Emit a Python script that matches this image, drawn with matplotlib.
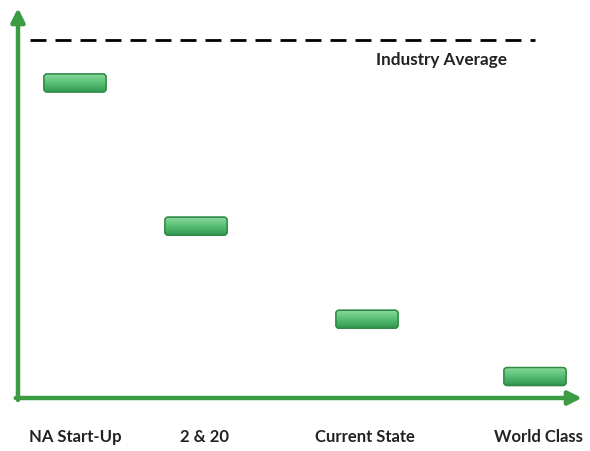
"""
Floating bars vs. industry average (recreated chart).
"""

import numpy as np
import matplotlib.pyplot as plt
from matplotlib.patches import FancyBboxPatch

categories = ["NA Start-Up", "2 & 20", "Current State", "World Class"]
values = [88, 48, 22, 6]
industry_average = 100
avg_label = "Industry Average"

# layout (axes x units are pixels from the y-axis)
bar_x = [57, 178, 349, 517]
label_x = [57, 187, 347, 520]
bar_w = 62
bar_h = 5.0
px_per_unit = 3.58

GREEN = "#3c9c43"
TEXT = "#222222"

fig = plt.figure(figsize=(5.9, 4.51), dpi=100)
ax = fig.add_axes([18 / 590, 53 / 451, 564 / 590, 390 / 451])
ax.set_xlim(0, 564)
ax.set_ylim(0, 390 / px_per_unit)
for s in ax.spines.values():
    s.set_visible(False)
ax.set_xticks([])
ax.set_yticks([])

# axes arrows
arrow = dict(arrowstyle="-|>", lw=3.2, color=GREEN, mutation_scale=20,
             shrinkA=0, shrinkB=0)
ax.annotate("", xy=(0, 1.0), xytext=(0, -0.005), xycoords="axes fraction",
            arrowprops=arrow, annotation_clip=False)
ax.annotate("", xy=(1.0, 0), xytext=(-0.004, 0), xycoords="axes fraction",
            arrowprops=arrow, annotation_clip=False)

# industry average dashed line
ax.plot([12, 517], [industry_average, industry_average], color="black",
        lw=2, dashes=(5.75, 3.25))
ax.text(424, industry_average - 5.6, avg_label, ha="center", va="center",
        fontsize=12.3, fontfamily="Lato", fontweight="bold", color=TEXT)

# gradient for bars: light top, darker bottom
grad = np.linspace(0, 1, 64).reshape(-1, 1)
top = np.array([0.55, 0.85, 0.62])
mid = np.array([0.36, 0.76, 0.47])
bot = np.array([0.20, 0.60, 0.32])
rgb = np.where(grad[..., None] < 0.45,
               top + (mid - top) * (grad[..., None] / 0.45),
               mid + (bot - mid) * ((grad[..., None] - 0.45) / 0.55))
rgb = rgb.reshape(64, 1, 3)

for x, v in zip(bar_x, values):
    x0, y0 = x - bar_w / 2, v - bar_h / 2
    patch = FancyBboxPatch((x0, y0), bar_w, bar_h,
                           boxstyle="round,pad=0,rounding_size=3",
                           mutation_aspect=1 / px_per_unit,
                           facecolor="#4cb863", edgecolor="#2d8a44", lw=1.0,
                           zorder=3)
    ax.add_patch(patch)
    im = ax.imshow(rgb, extent=(x0, x0 + bar_w, y0, y0 + bar_h),
                   aspect="auto", origin="upper", zorder=3.5)
    im.set_clip_path(patch)
    edge = FancyBboxPatch((x0, y0), bar_w, bar_h,
                          boxstyle="round,pad=0,rounding_size=3",
                          mutation_aspect=1 / px_per_unit,
                          facecolor="none", edgecolor="#2d8a44", lw=1.0,
                          zorder=4)
    ax.add_patch(edge)

ax.set_xlim(0, 564)
ax.set_ylim(0, 390 / px_per_unit)

for x, name in zip(label_x, categories):
    ax.text(x, -39 / 390, name, transform=ax.get_xaxis_transform(),
            ha="center", va="center", fontsize=12, fontfamily="Lato",
            fontweight="bold", color=TEXT)

fig.savefig("out.png", dpi=100)
